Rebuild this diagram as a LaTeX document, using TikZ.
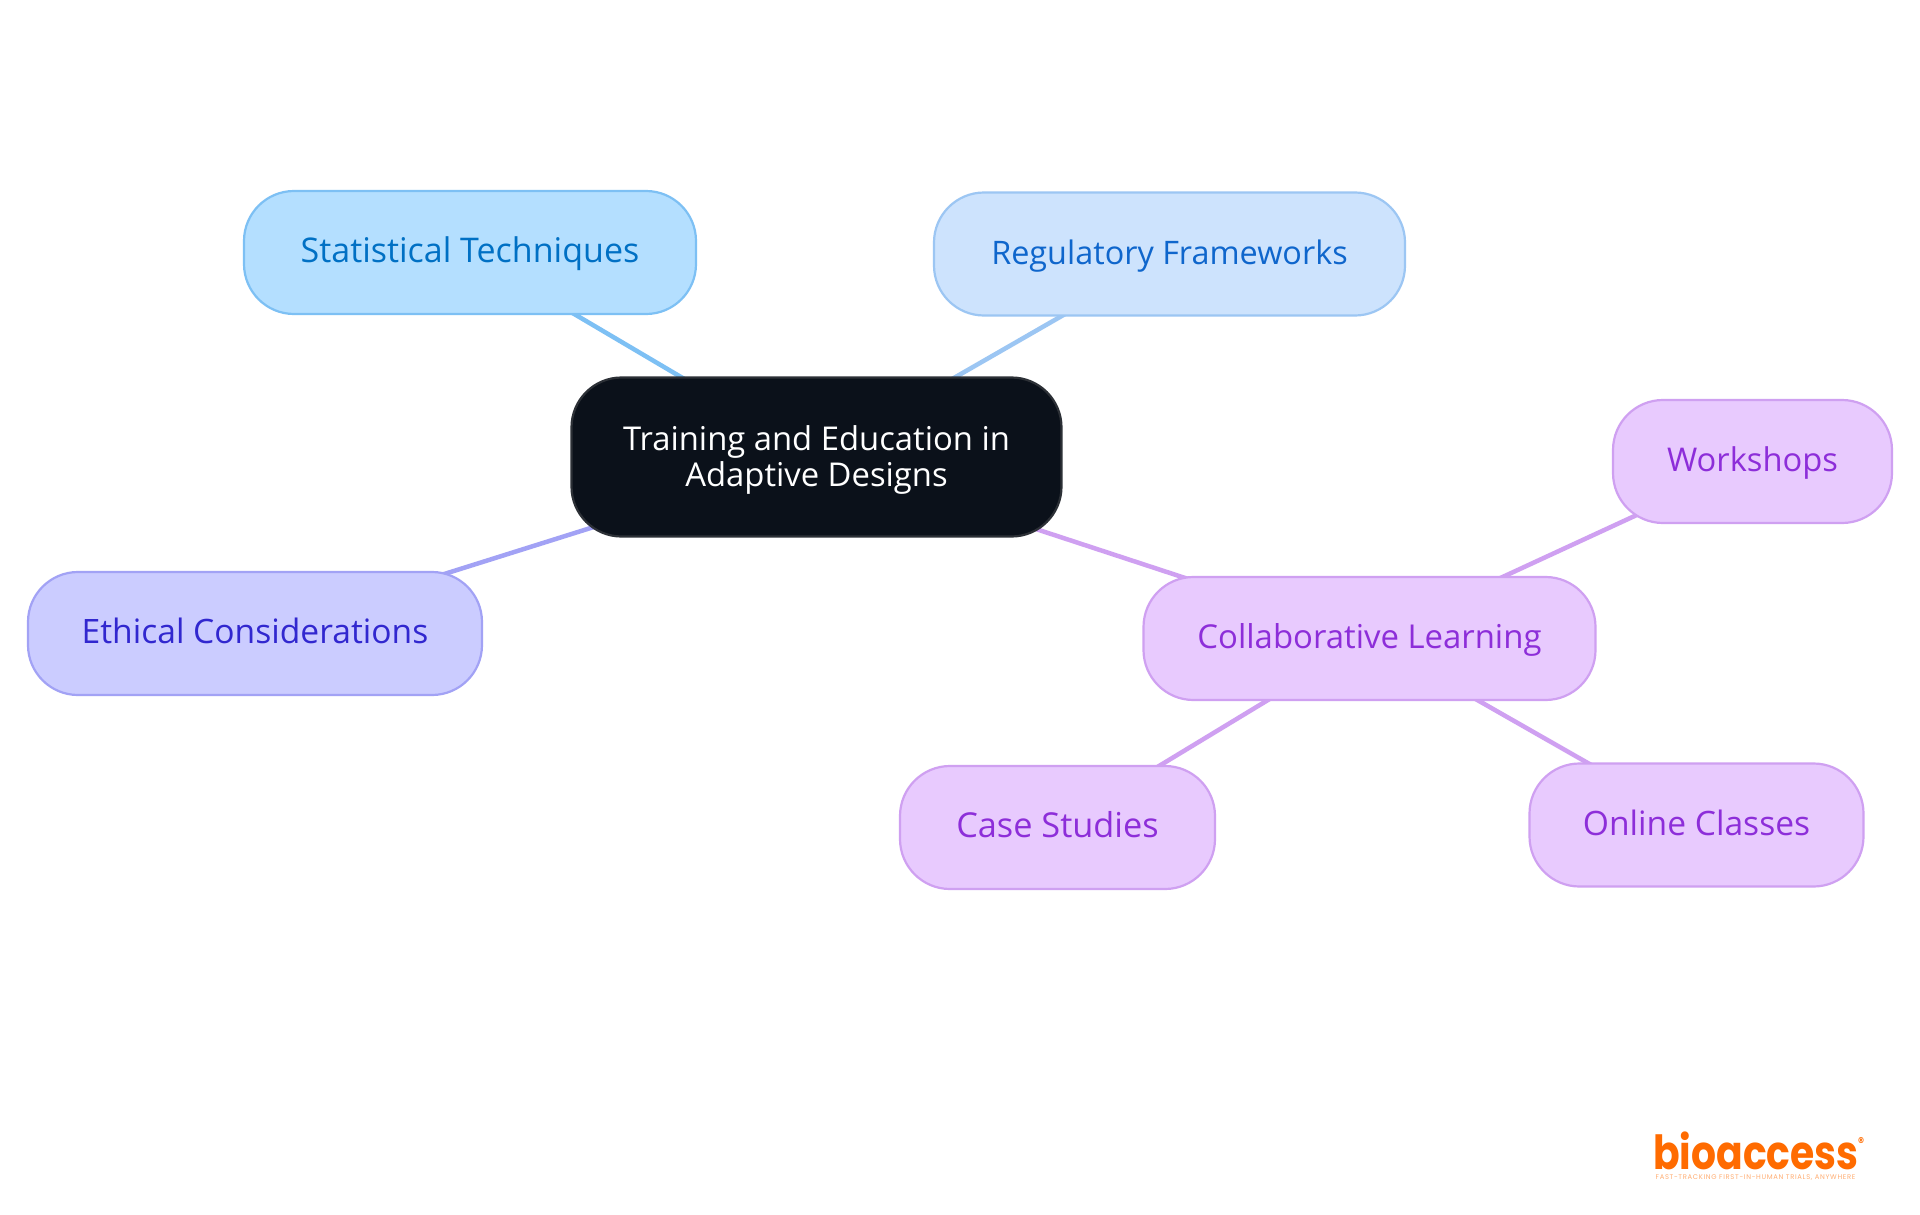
\documentclass[tikz,border=0pt]{standalone}
\usepackage{fontspec}
\setmainfont{Open Sans}
\newfontfamily\logofont[FakeStretch=0.835]{Poppins}
\newfontfamily\tagfont[LetterSpace=10]{Poppins}
\usetikzlibrary{backgrounds}
\definecolor{rootfill}{HTML}{0B111A}
\definecolor{rootline}{HTML}{2C3036}
\definecolor{statfill}{HTML}{B4DFFF}
\definecolor{statline}{HTML}{7DC0F4}
\definecolor{stattext}{HTML}{0070C4}
\definecolor{regfill}{HTML}{CDE3FD}
\definecolor{regline}{HTML}{9CC6F3}
\definecolor{regtext}{HTML}{0F66CC}
\definecolor{ethfill}{HTML}{CBCCFF}
\definecolor{ethline}{HTML}{A2A2F5}
\definecolor{ethtext}{HTML}{3127CF}
\definecolor{colfill}{HTML}{E8CAFE}
\definecolor{colline}{HTML}{CFA0F1}
\definecolor{coltext}{HTML}{8D2ED9}
\definecolor{logoorange}{HTML}{FF6B00}
\tikzset{
 mapnode/.style={rounded corners=50pt,line width=2.2pt,inner sep=0pt,minimum height=123pt},
 fs/.style={font=\fontsize{#1}{36}\selectfont},
 leafnode/.style={mapnode,text height=28pt,text depth=8pt},
 rootnode/.style={mapnode,align=center,fill=rootfill,draw=rootline,text=white,minimum width=490pt,minimum height=159pt},
 statnode/.style={leafnode,fill=statfill,draw=statline,text=stattext},
 regnode/.style={leafnode,fill=regfill,draw=regline,text=regtext},
 ethnode/.style={leafnode,fill=ethfill,draw=ethline,text=ethtext},
 colnode/.style={leafnode,fill=colfill,draw=colline,text=coltext},
 link/.style={line width=4.5pt},
}
\begin{document}
\begin{tikzpicture}[x=1pt,y=-1pt]
\useasboundingbox (0,0) rectangle (1920,1215);
\node[rootnode,fs=32.8] (root) at (816.5,457) {\rule{0pt}{30pt}Training and Education in\\Adaptive Designs};
\node[statnode,fs=34,minimum width=452pt] (stat) at (470,252.5) {Statistical Techniques};
\node[regnode,fs=32.4,minimum width=471pt] (reg) at (1169.5,254) {Regulatory Frameworks};
\node[ethnode,fs=33.6,minimum width=454pt] (eth) at (255,633.5) {Ethical Considerations};
\node[colnode,fs=32.9,minimum width=452pt] (col) at (1369.5,638.5) {Collaborative Learning};
\node[colnode,fs=32.7,minimum width=279pt] (work) at (1752.5,461.5) {Workshops};
\node[colnode,fs=34.3,minimum width=315pt] (case) at (1057.5,827.5) {Case Studies};
\node[colnode,fs=33.6,minimum width=334pt] (online) at (1696.5,825) {Online Classes};
\begin{scope}[on background layer]
\fill[white] (0,0) rectangle (1920,1215);
\draw[link,statline] (root.center) -- (stat.center);
\draw[link,regline] (root.center) -- (reg.center);
\draw[link,ethline] (root.center) -- (eth.center);
\draw[link,colline] (root.center) -- (col.center);
\draw[link,colline] (col.center) -- (work.center);
\draw[link,colline] (col.center) -- (case.center);
\draw[link,colline] (col.center) -- (online.center);
\end{scope}
\node[anchor=base west,inner sep=0pt,text depth=0pt,text=logoorange,font=\logofont\bfseries\fontsize{47}{47}\selectfont] (logo) at (1653,1169) {bioaccess};
\node[anchor=center,inner sep=0pt,text=logoorange,font=\logofont\bfseries\fontsize{14}{14}\selectfont] (mark) at (1861,1142) {®};
\node[anchor=center,inner sep=0pt,text=logoorange!55,font=\tagfont\fontsize{6.8}{7}\selectfont] (tag) at (1755.5,1178) {FAST-TRACKING FIRST-IN-HUMAN TRIALS, ANYWHERE};
\end{tikzpicture}
\end{document}
